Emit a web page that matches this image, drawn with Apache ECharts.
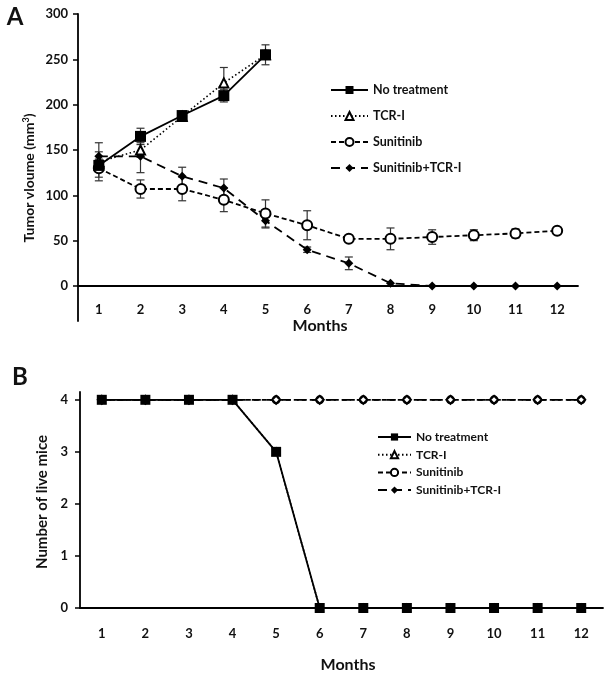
<!DOCTYPE html>
<html><head><meta charset="utf-8">
<script src="https://cdn.jsdelivr.net/npm/echarts@6/dist/echarts.min.js"></script>
<style>html,body{margin:0;padding:0;background:#fff}#c{width:604px;height:676px}</style>
</head><body><div id="c"></div>
<script>
// ---- data ----
const months = ['1','2','3','4','5','6','7','8','9','10','11','12'];
const seriesNames = ['No treatment','TCR-I','Sunitinib','Sunitinib+TCR-I'];
// Panel A: tumor volume (mm3) with SEM
const noTreatVol = [133,165,188,210,255,null,null,null,null,null,null,null];
const noTreatErr = [6,9,3,7,11,null,null,null,null,null,null,null];
const tcrVol = [137,150,187,224,255,null,null,null,null,null,null,null];
const tcrErr = [21,8,3,17,5,null,null,null,null,null,null,null];
const sunVol = [130,107,107,95,80,67,52,52,54,56,58,61];
const sunErr = [10,10,13,13,15,16,2,12,8,6,5,2];
const sunTcrVol = [143,143,121,108,72,40,25,3,0,0,0,0];
const sunTcrErr = [5,18,10,10,8,3,7,0,0,0,0,0];
// Panel B: number of live mice
const noTreatMice = [4,4,4,4,3,0,0,0,0,0,0,0];
const tcrMice = [4,4,4,4,3,0,0,0,0,0,0,0];
const sunMice = [4,4,4,4,4,4,4,4,4,4,4,4];
const sunTcrMice = [4,4,4,4,4,4,4,4,4,4,4,4];

const FONT = 'Lato, "Open Sans", sans-serif';
const INK = '#111';

function errData(vals, errs){
  const out = [];
  vals.forEach((v,i)=>{ if(v!=null && errs[i]!=null && errs[i]>0) out.push([i, v-errs[i], v+errs[i]]); });
  return out;
}
function renderErr(params, api){
  const x = api.value(0);
  const p1 = api.coord([x, api.value(2)]);
  const p2 = api.coord([x, api.value(1)]);
  const w = 4, st = {stroke:'#333', lineWidth:1.2};
  return {type:'group', children:[
    {type:'line', shape:{x1:p1[0],y1:p1[1],x2:p2[0],y2:p2[1]}, style:st},
    {type:'line', shape:{x1:p1[0]-w,y1:p1[1],x2:p1[0]+w,y2:p1[1]}, style:st},
    {type:'line', shape:{x1:p2[0]-w,y1:p2[1],x2:p2[0]+w,y2:p2[1]}, style:st}
  ]};
}
function errSeries(vals, errs){
  return {type:'custom', xAxisIndex:0, yAxisIndex:0, renderItem:renderErr,
    data: errData(vals, errs), encode:{x:0, y:[1,2]}, z:1, silent:true, clip:false};
}
const styles = {
  'No treatment': {symbol:'rect', symbolSize:11, lineStyle:{type:'solid', width:1.8}, itemStyle:{color:'#000'}},
  'TCR-I': {symbol:'emptyTriangle', symbolSize:9, lineStyle:{type:[1.5,2.5], width:1.6}, itemStyle:{color:'#000', borderWidth:1.5}},
  'Sunitinib': {symbol:'emptyCircle', symbolSize:10, lineStyle:{type:[5,3], width:1.8}, itemStyle:{color:'#000', borderWidth:1.5}},
  'Sunitinib+TCR-I': {symbol:'diamond', symbolSize:9, lineStyle:{type:[9,6], width:1.8}, itemStyle:{color:'#000'}}
};
function lineSeries(name, data, idx, extra){
  return Object.assign({type:'line', name, data, xAxisIndex:idx, yAxisIndex:idx, z:3,
    color:'#000', connectNulls:false, animation:false, clip:false}, styles[name], extra||{});
}
const axisLineStyle = {lineStyle:{color:'#000', width:1.8}};
const tickStyle = {length:5, lineStyle:{color:'#000', width:1.5}};
const labelStyle = {color:INK, fontFamily:FONT, fontWeight:'bold', fontSize:13};

const option = {
  animation:false,
  backgroundColor:'#fff',
  grid:[
    {left:78, right:26, top:14, bottom:390},
    {left:80, right:1, top:392, bottom:68},
    {left:78, width:10, top:286, height:35}
  ],
  xAxis:[
    {type:'category', gridIndex:0, data:months, boundaryGap:true,
     axisLine:axisLineStyle, axisTick:tickStyle,
     axisLabel:Object.assign({margin:17}, labelStyle), splitLine:{show:false}},
    {type:'category', gridIndex:1, data:months, boundaryGap:true,
     axisLine:axisLineStyle, axisTick:tickStyle,
     axisLabel:Object.assign({margin:19}, labelStyle), splitLine:{show:false}},
    {type:'category', gridIndex:2, show:false, data:['']}
  ],
  yAxis:[
    {type:'value', gridIndex:0, min:0, max:300, interval:50,
     axisLine:Object.assign({show:true}, axisLineStyle),
     axisTick:Object.assign({show:true}, tickStyle),
     axisLabel:Object.assign({margin:10}, labelStyle),
     splitLine:{show:false}},
    {type:'value', gridIndex:1, min:0, max:4.15,
     axisLine:Object.assign({show:true}, axisLineStyle),
     axisTick:Object.assign({show:true, customValues:[0,1,2,3,4]}, tickStyle),
     axisLabel:Object.assign({margin:12, customValues:[0,1,2,3,4]}, labelStyle),
     splitLine:{show:false}},
    {type:'value', gridIndex:2, min:0, max:1,
     axisLine:Object.assign({show:true}, axisLineStyle),
     axisTick:{show:false}, axisLabel:{show:false}, splitLine:{show:false}}
  ],
  legend:[
    {data:seriesNames, orient:'vertical', left:325, top:78, padding:5, itemWidth:37, itemHeight:10, itemGap:12,
     textStyle:{color:INK, fontFamily:FONT, fontWeight:'bold', fontSize:12.5, lineHeight:14}, selectedMode:false},
    {data:seriesNames, orient:'vertical', left:372, top:426, padding:5, itemWidth:33, itemHeight:9, itemGap:5.7,
     textStyle:{color:INK, fontFamily:FONT, fontWeight:'bold', fontSize:12, lineHeight:12}, selectedMode:false}
  ],
  graphic:[
    {type:'text', x:15, y:17, style:{text:'A', font:'bold 24px '+FONT, fill:INK, align:'center', verticalAlign:'middle'}},
    {type:'text', x:20, y:377, style:{text:'B', font:'bold 24px '+FONT, fill:INK, align:'center', verticalAlign:'middle'}},
    {type:'text', x:320, y:326, style:{text:'Months', font:'bold 16px '+FONT, fill:INK, align:'center', verticalAlign:'middle'}},
    {type:'text', x:348, y:665, style:{text:'Months', font:'bold 16px '+FONT, fill:INK, align:'center', verticalAlign:'middle'}},
    {type:'text', x:29, y:178, rotation:Math.PI/2, style:{text:'Tumor vloume (mm{sup|3})', font:'bold 14px '+FONT, fill:INK, align:'center', verticalAlign:'middle',
      rich:{sup:{fontSize:9, fontWeight:'bold', fontFamily:FONT, verticalAlign:'top', padding:[0,0,6,0], fill:INK}}}},
    {type:'text', x:42, y:502, rotation:Math.PI/2, style:{text:'Number of live mice', font:'bold 15px '+FONT, fill:INK, align:'center', verticalAlign:'middle'}}
  ],
  series:[
    errSeries(noTreatVol, noTreatErr),
    errSeries(tcrVol, tcrErr),
    errSeries(sunVol, sunErr),
    errSeries(sunTcrVol, sunTcrErr),
    lineSeries('Sunitinib+TCR-I', sunTcrVol, 0),
    lineSeries('Sunitinib', sunVol, 0),
    lineSeries('TCR-I', tcrVol, 0),
    lineSeries('No treatment', noTreatVol, 0),
    lineSeries('Sunitinib', sunMice, 1, {symbol:'emptyCircle', symbolSize:7}),
    lineSeries('Sunitinib+TCR-I', sunTcrMice, 1, {symbol:'emptyDiamond', symbolSize:8, itemStyle:{color:'#000', borderWidth:2}}),
    lineSeries('TCR-I', tcrMice, 1, {symbolSize:6}),
    lineSeries('No treatment', noTreatMice, 1, {symbolSize:10})
  ]
};
const chart = echarts.init(document.getElementById('c'), null, {renderer:'canvas'});
chart.setOption(option);
</script></body></html>
